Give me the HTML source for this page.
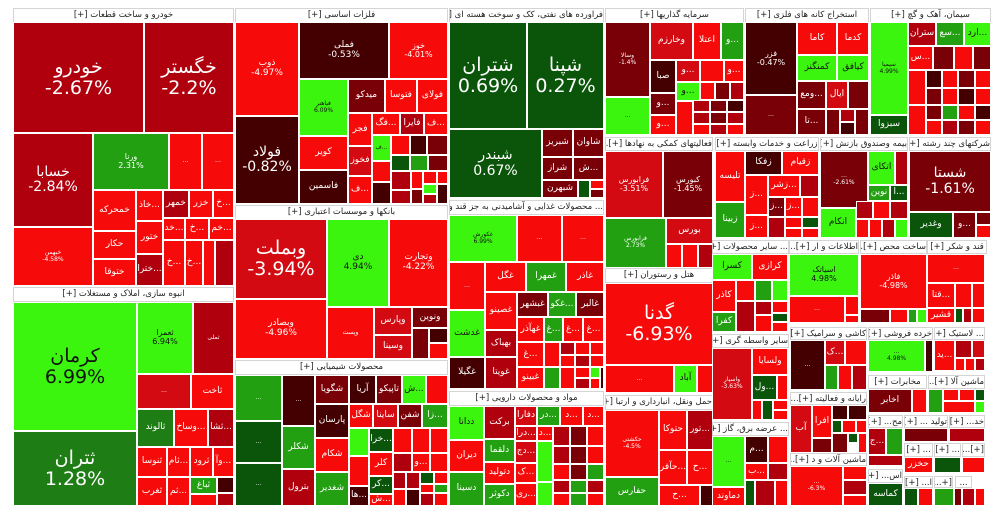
<!DOCTYPE html>
<html><head><meta charset="utf-8"><style>
body{margin:0;background:#fff;width:1000px;height:517px;overflow:hidden;position:relative;font-family:"DejaVu Sans","Liberation Sans",sans-serif}
.t,.h{position:absolute;box-sizing:border-box;overflow:hidden}
.t{border:1px solid #fff;display:flex;flex-direction:column;align-items:center;justify-content:center;color:#fff;text-align:center;line-height:1.1;font-size:9px;white-space:nowrap}
.h{background:#fff;border:1px solid #d4d4d4;font-size:8.5px;color:#222;text-align:center;line-height:12px;white-space:nowrap;direction:rtl}
.r{background:#f70a0a}.r2{background:#d40a12}.r3{background:#b0000e}.r4{background:#7a0008}.r5{background:#440000}
.g{background:#3cf50f;color:#111}.g2{background:#22a012}.g3{background:#0a550a}.gd{background:#1e7d14}
.L{font-size:19px}.M{font-size:14px}.S{font-size:8px}.T{font-size:6px}
</style></head><body>
<!-- Autos -->
<div class="h" style="left:13px;top:8px;width:221px;height:15px">خودرو و ساخت قطعات [+]</div>
<div class="t r3 L" style="left:13px;top:22px;width:131px;height:111px">خودرو<br>-2.67%</div>
<div class="t r3 L" style="left:144px;top:22px;width:90px;height:111px">خگستر<br>-2.2%</div>
<div class="t r3 M" style="left:13px;top:133px;width:80px;height:94px">خسابا<br>-2.84%</div>
<div class="t g2 S" style="left:93px;top:133px;width:76px;height:57px">ورنا<br>2.31%</div>
<div class="t r T" style="left:169px;top:133px;width:33px;height:57px">…</div>
<div class="t r T" style="left:202px;top:133px;width:32px;height:57px">…</div>
<div class="t r T" style="left:13px;top:227px;width:80px;height:59px">خبهمن<br>-4.58%</div>
<div class="t r" style="left:93px;top:190px;width:43px;height:41px">خمحرکه</div>
<div class="t r" style="left:136px;top:190px;width:27px;height:31px">خاذ...</div>
<div class="t r3" style="left:163px;top:190px;width:26px;height:28px">خمهر</div>
<div class="t r" style="left:189px;top:190px;width:24px;height:28px">خزر</div>
<div class="t r" style="left:213px;top:190px;width:21px;height:28px">خ...</div>
<div class="t r" style="left:93px;top:231px;width:43px;height:28px">حکار</div>
<div class="t r" style="left:136px;top:221px;width:27px;height:33px">ختور</div>
<div class="t r" style="left:163px;top:218px;width:22px;height:22px">خد...</div>
<div class="t r" style="left:185px;top:218px;width:24px;height:22px">خ...</div>
<div class="t r" style="left:209px;top:218px;width:25px;height:22px">خم...</div>
<div class="t r" style="left:93px;top:259px;width:43px;height:27px">ختوقا</div>
<div class="t r3" style="left:136px;top:254px;width:27px;height:32px">خترا...</div>
<div class="t r" style="left:163px;top:240px;width:22px;height:46px">خ...</div>
<div class="t r" style="left:185px;top:240px;width:18px;height:46px">خ...</div>
<div class="t r" style="left:203px;top:240px;width:12px;height:46px"></div>
<div class="t r3" style="left:215px;top:240px;width:19px;height:46px"></div>
<!-- Construction -->
<div class="h" style="left:13px;top:287px;width:221px;height:15px">انبوه سازی، املاک و مستغلات [+]</div>
<div class="t g L" style="left:13px;top:302px;width:124px;height:129px">کرمان<br>6.99%</div>
<div class="t gd L" style="left:13px;top:431px;width:124px;height:75px">ثتران<br>1.28%</div>
<div class="t g S" style="left:137px;top:302px;width:56px;height:72px">ثعمرا<br>6.94%</div>
<div class="t r3 T" style="left:193px;top:302px;width:41px;height:72px">ثملی</div>
<div class="t r2 T" style="left:137px;top:374px;width:54px;height:35px">…</div>
<div class="t r" style="left:191px;top:374px;width:43px;height:35px">ثاخت</div>
<div class="t gd" style="left:137px;top:409px;width:37px;height:38px">ثالوند</div>
<div class="t r" style="left:174px;top:409px;width:34px;height:38px">وساخ...</div>
<div class="t r3" style="left:208px;top:409px;width:26px;height:38px">ثشا...</div>
<div class="t r" style="left:137px;top:447px;width:30px;height:30px">ثنوسا</div>
<div class="t r" style="left:167px;top:447px;width:23px;height:30px">ثام...</div>
<div class="t r" style="left:190px;top:447px;width:23px;height:30px">ثرود</div>
<div class="t r" style="left:213px;top:447px;width:21px;height:30px">وآ...</div>
<div class="t r" style="left:137px;top:477px;width:30px;height:29px">ثغرب</div>
<div class="t r" style="left:167px;top:477px;width:23px;height:29px">ثم...</div>
<div class="t g2" style="left:190px;top:477px;width:27px;height:17px">ثباغ</div>
<div class="t r5" style="left:217px;top:477px;width:17px;height:16px"></div>
<div class="t r" style="left:190px;top:494px;width:27px;height:12px"></div>
<div class="t r3" style="left:217px;top:493px;width:17px;height:13px"></div>
<!-- Metals -->
<div class="h" style="left:235px;top:8px;width:213px;height:15px">فلزات اساسی [+]</div>
<div class="t r" style="left:235px;top:22px;width:64px;height:94px">ذوب<br>-4.97%</div>
<div class="t r5" style="left:299px;top:22px;width:90px;height:57px">فملی<br>-0.53%</div>
<div class="t r S" style="left:389px;top:22px;width:59px;height:57px">خوز<br>-4.01%</div>
<div class="t g T" style="left:299px;top:79px;width:49px;height:57px">فباهنر<br>6.09%</div>
<div class="t r4" style="left:348px;top:79px;width:37px;height:34px">میدکو</div>
<div class="t r" style="left:385px;top:79px;width:32px;height:34px">فتوسا</div>
<div class="t r" style="left:417px;top:79px;width:31px;height:34px">فولای</div>
<div class="t r5 M" style="left:235px;top:116px;width:64px;height:88px">فولاد<br>-0.82%</div>
<div class="t r" style="left:348px;top:113px;width:24px;height:33px">فجر</div>
<div class="t r" style="left:372px;top:113px;width:28px;height:22px">فگ...</div>
<div class="t r3" style="left:400px;top:113px;width:24px;height:22px">فایرا</div>
<div class="t r" style="left:424px;top:113px;width:24px;height:22px">ف...</div>
<div class="t r" style="left:299px;top:136px;width:49px;height:34px">کویر</div>
<div class="t r5" style="left:299px;top:170px;width:49px;height:34px">فاسمین</div>
<div class="t r2" style="left:348px;top:146px;width:24px;height:30px">فخوز</div>
<div class="t r" style="left:348px;top:176px;width:24px;height:28px">ف...</div>
<div class="t g T" style="left:372px;top:135px;width:19px;height:26px">ف...</div>
<div class="t r" style="left:391px;top:135px;width:19px;height:20px"></div>
<div class="t r5" style="left:410px;top:135px;width:17px;height:20px"></div>
<div class="t r4" style="left:427px;top:135px;width:21px;height:20px"></div>
<div class="t r" style="left:372px;top:161px;width:19px;height:21px"></div>
<div class="t g3" style="left:391px;top:155px;width:19px;height:16px"></div>
<div class="t g2" style="left:410px;top:155px;width:18px;height:16px"></div>
<div class="t r4" style="left:428px;top:155px;width:20px;height:16px"></div>
<div class="t r5" style="left:372px;top:182px;width:19px;height:22px"></div>
<div class="t r3" style="left:391px;top:171px;width:20px;height:19px"></div>
<div class="t r" style="left:411px;top:171px;width:12px;height:18px"></div>
<div class="t r" style="left:423px;top:171px;width:14px;height:13px"></div>
<div class="t r" style="left:437px;top:171px;width:11px;height:13px"></div>
<div class="t g" style="left:423px;top:184px;width:14px;height:10px"></div>
<div class="t r3" style="left:391px;top:190px;width:20px;height:14px"></div>
<div class="t r4" style="left:411px;top:189px;width:12px;height:15px"></div>
<div class="t r3" style="left:423px;top:194px;width:14px;height:10px"></div>
<div class="t r5" style="left:437px;top:184px;width:11px;height:20px"></div>
<!-- Banks -->
<div class="h" style="left:235px;top:205px;width:213px;height:15px">بانکها و موسسات اعتباری [+]</div>
<div class="t r2 L" style="left:235px;top:219px;width:92px;height:80px">وبملت<br>-3.94%</div>
<div class="t g" style="left:327px;top:219px;width:62px;height:88px">دی<br>4.94%</div>
<div class="t r" style="left:389px;top:219px;width:59px;height:88px">وتجارت<br>-4.22%</div>
<div class="t r" style="left:235px;top:299px;width:92px;height:60px">وبصادر<br>-4.96%</div>
<div class="t r T" style="left:327px;top:307px;width:47px;height:52px">وپست</div>
<div class="t r2" style="left:374px;top:307px;width:38px;height:28px">وپارس</div>
<div class="t r2" style="left:374px;top:335px;width:38px;height:24px">وسینا</div>
<div class="t r4" style="left:412px;top:307px;width:36px;height:21px">ونوین</div>
<div class="t r4" style="left:412px;top:328px;width:17px;height:31px"></div>
<div class="t r5" style="left:429px;top:328px;width:19px;height:15px"></div>
<div class="t r" style="left:429px;top:343px;width:19px;height:16px"></div>
<!-- Chemicals -->
<div class="h" style="left:235px;top:360px;width:213px;height:15px">محصولات شیمیایی [+]</div>
<div class="t g2 T" style="left:235px;top:375px;width:47px;height:46px">…</div>
<div class="t g3 T" style="left:235px;top:421px;width:47px;height:42px">…</div>
<div class="t g3 T" style="left:235px;top:463px;width:47px;height:43px">…</div>
<div class="t r5 T" style="left:282px;top:375px;width:33px;height:51px">…</div>
<div class="t g2" style="left:282px;top:426px;width:33px;height:43px">شکلر</div>
<div class="t r3" style="left:282px;top:469px;width:33px;height:37px">بترول</div>
<div class="t r4" style="left:315px;top:375px;width:34px;height:29px">شگویا</div>
<div class="t r5" style="left:315px;top:404px;width:34px;height:34px">پارسان</div>
<div class="t r" style="left:315px;top:438px;width:34px;height:34px">شکام</div>
<div class="t g2" style="left:315px;top:472px;width:34px;height:34px">شغدیر</div>
<div class="t r5" style="left:349px;top:375px;width:27px;height:29px">آریا</div>
<div class="t r4" style="left:376px;top:375px;width:26px;height:29px">تاپیکو</div>
<div class="t g" style="left:402px;top:375px;width:24px;height:29px">ش...</div>
<div class="t r" style="left:426px;top:375px;width:22px;height:29px"></div>
<div class="t r" style="left:349px;top:404px;width:24px;height:24px">شگل</div>
<div class="t r2" style="left:373px;top:404px;width:25px;height:24px">ساینا</div>
<div class="t r4" style="left:398px;top:404px;width:24px;height:24px">شفن</div>
<div class="t g2" style="left:422px;top:404px;width:26px;height:24px">زا...</div>
<div class="t g" style="left:349px;top:428px;width:20px;height:28px"></div>
<div class="t g3" style="left:369px;top:428px;width:24px;height:24px">خرا...</div>
<div class="t r" style="left:393px;top:428px;width:19px;height:25px"></div>
<div class="t r" style="left:412px;top:428px;width:18px;height:25px"></div>
<div class="t r" style="left:430px;top:428px;width:18px;height:25px"></div>
<div class="t r" style="left:349px;top:456px;width:20px;height:30px"></div>
<div class="t r" style="left:369px;top:452px;width:24px;height:24px">کلر</div>
<div class="t r3" style="left:393px;top:453px;width:19px;height:19px"></div>
<div class="t r" style="left:412px;top:453px;width:18px;height:19px">و...</div>
<div class="t r" style="left:430px;top:453px;width:18px;height:19px"></div>
<div class="t g3" style="left:369px;top:476px;width:24px;height:18px">کر...</div>
<div class="t r" style="left:369px;top:494px;width:24px;height:12px">ش...</div>
<div class="t r5" style="left:349px;top:486px;width:20px;height:20px">ها...</div>
<div class="t r3" style="left:393px;top:472px;width:13px;height:17px"></div>
<div class="t r3" style="left:406px;top:472px;width:14px;height:17px"></div>
<div class="t g3" style="left:420px;top:472px;width:14px;height:12px"></div>
<div class="t r" style="left:434px;top:472px;width:14px;height:12px"></div>
<div class="t r" style="left:420px;top:484px;width:14px;height:9px"></div>
<div class="t g2" style="left:434px;top:484px;width:14px;height:9px"></div>
<div class="t r" style="left:393px;top:489px;width:13px;height:17px"></div>
<div class="t r5" style="left:406px;top:489px;width:14px;height:17px"></div>
<div class="t r3" style="left:420px;top:493px;width:14px;height:13px"></div>
<div class="t r" style="left:434px;top:493px;width:14px;height:13px"></div>
<!-- Oil -->
<div class="h" style="left:449px;top:8px;width:155px;height:15px">فراورده های نفتی، کک و سوخت هسته ای [+]</div>
<div class="t g3 L" style="left:449px;top:22px;width:78px;height:107px">شتران<br>0.69%</div>
<div class="t g3 L" style="left:527px;top:22px;width:77px;height:107px">شپنا<br>0.27%</div>
<div class="t g3 M" style="left:449px;top:129px;width:93px;height:69px">شبندر<br>0.67%</div>
<div class="t r4" style="left:542px;top:129px;width:31px;height:28px">شبریز</div>
<div class="t r4" style="left:573px;top:129px;width:31px;height:28px">شاوان</div>
<div class="t r4" style="left:542px;top:157px;width:31px;height:23px">شراز</div>
<div class="t r4" style="left:573px;top:157px;width:31px;height:23px">ش...</div>
<div class="t r4" style="left:542px;top:180px;width:36px;height:18px">شبهرن</div>
<div class="t g3" style="left:578px;top:180px;width:12px;height:18px"></div>
<div class="t r" style="left:590px;top:180px;width:14px;height:9px"></div>
<div class="t r4" style="left:590px;top:189px;width:14px;height:9px"></div>
<!-- Food -->
<div class="h" style="left:449px;top:200px;width:155px;height:15px">... محصولات غذایی و آشامیدنی به جز قند و [+]</div>
<div class="t g T" style="left:449px;top:215px;width:68px;height:47px">غکورش<br>6.99%</div>
<div class="t r T" style="left:517px;top:215px;width:45px;height:47px">…</div>
<div class="t r T" style="left:562px;top:215px;width:42px;height:47px">…</div>
<div class="t r T" style="left:449px;top:262px;width:36px;height:48px">…</div>
<div class="t r" style="left:485px;top:262px;width:41px;height:30px">غگل</div>
<div class="t g2" style="left:526px;top:262px;width:40px;height:30px">غمهرا</div>
<div class="t r" style="left:566px;top:262px;width:38px;height:30px">غاذر</div>
<div class="t r" style="left:485px;top:292px;width:32px;height:38px">غصینو</div>
<div class="t r4" style="left:517px;top:292px;width:31px;height:25px">غبشهر</div>
<div class="t g2" style="left:548px;top:292px;width:28px;height:25px">غکو...</div>
<div class="t r4" style="left:576px;top:292px;width:28px;height:25px">غالبر</div>
<div class="t g" style="left:449px;top:310px;width:36px;height:47px">غدشت</div>
<div class="t r5" style="left:449px;top:357px;width:36px;height:32px">غگیلا</div>
<div class="t r3" style="left:485px;top:330px;width:32px;height:27px">بهباک</div>
<div class="t r3" style="left:485px;top:357px;width:32px;height:32px">غویتا</div>
<div class="t r" style="left:517px;top:317px;width:27px;height:25px">غهآذر</div>
<div class="t g2" style="left:544px;top:317px;width:19px;height:25px">غ...</div>
<div class="t r" style="left:563px;top:317px;width:20px;height:25px">غ...</div>
<div class="t r" style="left:583px;top:317px;width:21px;height:25px">غ...</div>
<div class="t r" style="left:517px;top:342px;width:27px;height:25px">غ...</div>
<div class="t r" style="left:517px;top:367px;width:27px;height:22px">غبینو</div>
<div class="t r" style="left:544px;top:342px;width:16px;height:25px"></div>
<div class="t r3" style="left:560px;top:342px;width:15px;height:13px"></div>
<div class="t r" style="left:575px;top:342px;width:15px;height:13px"></div>
<div class="t r" style="left:590px;top:342px;width:14px;height:13px"></div>
<div class="t r" style="left:560px;top:355px;width:15px;height:12px"></div>
<div class="t r3" style="left:575px;top:355px;width:15px;height:12px"></div>
<div class="t r" style="left:590px;top:355px;width:14px;height:12px"></div>
<div class="t g2" style="left:544px;top:367px;width:16px;height:22px"></div>
<div class="t r" style="left:560px;top:367px;width:15px;height:22px"></div>
<div class="t r" style="left:575px;top:367px;width:15px;height:11px"></div>
<div class="t g" style="left:590px;top:367px;width:10px;height:11px"></div>
<div class="t r3" style="left:575px;top:378px;width:15px;height:11px"></div>
<div class="t r" style="left:590px;top:378px;width:10px;height:11px"></div>
<div class="t r5" style="left:600px;top:367px;width:4px;height:22px"></div>
<!-- Pharma -->
<div class="h" style="left:449px;top:391px;width:155px;height:15px">مواد و محصولات دارویی [+]</div>
<div class="t g" style="left:449px;top:406px;width:35px;height:34px">ددانا</div>
<div class="t r" style="left:449px;top:440px;width:35px;height:32px">دیران</div>
<div class="t g2" style="left:449px;top:472px;width:35px;height:34px">دسینا</div>
<div class="t r3" style="left:484px;top:406px;width:31px;height:33px">برکت</div>
<div class="t g2" style="left:484px;top:439px;width:31px;height:23px">دلقما</div>
<div class="t r" style="left:484px;top:462px;width:31px;height:22px">دتولید</div>
<div class="t g2" style="left:484px;top:484px;width:31px;height:22px">دکوثر</div>
<div class="t r2" style="left:515px;top:406px;width:22px;height:20px">دفارا</div>
<div class="t g2" style="left:537px;top:406px;width:23px;height:20px">در...</div>
<div class="t r" style="left:560px;top:406px;width:23px;height:20px">د...</div>
<div class="t r" style="left:583px;top:406px;width:21px;height:20px">د...</div>
<div class="t r2" style="left:515px;top:426px;width:22px;height:15px">درا...</div>
<div class="t r" style="left:537px;top:426px;width:16px;height:15px">د...</div>
<div class="t r2" style="left:515px;top:441px;width:22px;height:22px">دج...</div>
<div class="t r" style="left:515px;top:463px;width:22px;height:20px">ک...</div>
<div class="t r" style="left:515px;top:483px;width:22px;height:23px">ری...</div>
<div class="t g" style="left:537px;top:441px;width:16px;height:41px"></div>
<div class="t g" style="left:537px;top:482px;width:16px;height:24px"></div>
<div class="t r3" style="left:553px;top:426px;width:17px;height:20px"></div>
<div class="t r4" style="left:570px;top:426px;width:17px;height:20px"></div>
<div class="t r" style="left:587px;top:426px;width:17px;height:20px"></div>
<div class="t r3" style="left:553px;top:446px;width:17px;height:18px"></div>
<div class="t r4" style="left:570px;top:446px;width:17px;height:18px"></div>
<div class="t r" style="left:587px;top:446px;width:17px;height:18px"></div>
<div class="t r" style="left:553px;top:464px;width:17px;height:16px"></div>
<div class="t r4" style="left:570px;top:464px;width:17px;height:16px"></div>
<div class="t g2" style="left:587px;top:464px;width:17px;height:16px"></div>
<div class="t r3" style="left:553px;top:480px;width:17px;height:13px"></div>
<div class="t g2" style="left:570px;top:480px;width:17px;height:13px"></div>
<div class="t r3" style="left:587px;top:480px;width:17px;height:13px"></div>
<div class="t r" style="left:553px;top:493px;width:17px;height:13px"></div>
<div class="t g2" style="left:570px;top:493px;width:17px;height:13px"></div>
<div class="t r" style="left:587px;top:493px;width:17px;height:13px"></div>
<!-- Investment -->
<div class="h" style="left:605px;top:8px;width:139px;height:15px">سرمایه گذاریها [+]</div>
<div class="t r4 T" style="left:605px;top:22px;width:45px;height:75px">وسالا<br>-1.4%</div>
<div class="t g T" style="left:605px;top:97px;width:45px;height:38px">…</div>
<div class="t r2" style="left:650px;top:22px;width:43px;height:38px">وخارزم</div>
<div class="t r" style="left:693px;top:22px;width:28px;height:38px">اعتلا</div>
<div class="t g2" style="left:721px;top:22px;width:23px;height:38px">و...</div>
<div class="t r5" style="left:650px;top:60px;width:26px;height:33px">صبا</div>
<div class="t r2" style="left:676px;top:60px;width:24px;height:22px">و...</div>
<div class="t r" style="left:700px;top:60px;width:24px;height:22px"></div>
<div class="t r" style="left:724px;top:60px;width:20px;height:22px">و...</div>
<div class="t g" style="left:676px;top:82px;width:24px;height:19px">و...</div>
<div class="t r4" style="left:650px;top:93px;width:26px;height:22px">و...</div>
<div class="t r" style="left:650px;top:115px;width:26px;height:20px">و...</div>
<div class="t r" style="left:700px;top:82px;width:15px;height:18px"></div>
<div class="t r4" style="left:715px;top:82px;width:15px;height:18px"></div>
<div class="t r3" style="left:730px;top:82px;width:14px;height:18px"></div>
<div class="t r" style="left:676px;top:101px;width:17px;height:34px"></div>
<div class="t r3" style="left:693px;top:100px;width:17px;height:12px"></div>
<div class="t r4" style="left:710px;top:100px;width:17px;height:12px"></div>
<div class="t r5" style="left:727px;top:100px;width:17px;height:12px"></div>
<div class="t r3" style="left:693px;top:112px;width:17px;height:12px"></div>
<div class="t r4" style="left:710px;top:112px;width:17px;height:12px"></div>
<div class="t r3" style="left:727px;top:112px;width:17px;height:12px"></div>
<div class="t r" style="left:693px;top:124px;width:17px;height:11px"></div>
<div class="t r3" style="left:710px;top:124px;width:17px;height:11px"></div>
<div class="t r" style="left:727px;top:124px;width:17px;height:11px"></div>
<!-- Mining -->
<div class="h" style="left:745px;top:8px;width:124px;height:15px">استخراج کانه های فلزی [+]</div>
<div class="t r5 S" style="left:745px;top:22px;width:52px;height:73px">فزر<br>-0.47%</div>
<div class="t r4 T" style="left:745px;top:95px;width:52px;height:40px">…</div>
<div class="t r" style="left:797px;top:22px;width:40px;height:33px">کاما</div>
<div class="t r" style="left:837px;top:22px;width:32px;height:33px">کدما</div>
<div class="t g" style="left:797px;top:55px;width:40px;height:26px">کمنگنز</div>
<div class="t g" style="left:837px;top:55px;width:32px;height:26px">کیافق</div>
<div class="t r4" style="left:797px;top:81px;width:29px;height:28px">ومع...</div>
<div class="t r2" style="left:826px;top:81px;width:22px;height:28px">ایال</div>
<div class="t r4" style="left:848px;top:81px;width:21px;height:28px"></div>
<div class="t r4" style="left:797px;top:109px;width:29px;height:26px">تا...</div>
<div class="t r4" style="left:826px;top:109px;width:14px;height:26px"></div>
<div class="t r3" style="left:840px;top:109px;width:15px;height:13px"></div>
<div class="t r5" style="left:840px;top:122px;width:15px;height:13px"></div>
<div class="t r4" style="left:855px;top:109px;width:14px;height:26px"></div>
<!-- Cement -->
<div class="h" style="left:870px;top:8px;width:121px;height:15px">سیمان، آهک و گچ [+]</div>
<div class="t g T" style="left:870px;top:22px;width:38px;height:93px">سیمیا<br>4.99%</div>
<div class="t g3" style="left:870px;top:115px;width:38px;height:20px">سبزوا</div>
<div class="t r3" style="left:908px;top:22px;width:28px;height:24px">ستران</div>
<div class="t g2" style="left:936px;top:22px;width:28px;height:24px">سع...</div>
<div class="t g" style="left:964px;top:22px;width:27px;height:24px">ارد...</div>
<div class="t r" style="left:908px;top:46px;width:25px;height:24px">س...</div>
<div class="t r4" style="left:933px;top:46px;width:21px;height:24px"></div>
<div class="t r" style="left:954px;top:46px;width:19px;height:24px"></div>
<div class="t r4" style="left:973px;top:46px;width:18px;height:24px"></div>
<div class="t r" style="left:908px;top:70px;width:18px;height:35px"></div>
<div class="t r5" style="left:926px;top:70px;width:16px;height:18px"></div>
<div class="t r" style="left:942px;top:70px;width:16px;height:18px"></div>
<div class="t r4" style="left:958px;top:70px;width:17px;height:18px"></div>
<div class="t r" style="left:975px;top:70px;width:16px;height:18px"></div>
<div class="t r4" style="left:926px;top:88px;width:16px;height:17px"></div>
<div class="t r" style="left:942px;top:88px;width:16px;height:17px"></div>
<div class="t r5" style="left:958px;top:88px;width:17px;height:17px"></div>
<div class="t r" style="left:975px;top:88px;width:16px;height:17px"></div>
<div class="t r" style="left:908px;top:105px;width:18px;height:30px"></div>
<div class="t r4" style="left:926px;top:105px;width:16px;height:15px"></div>
<div class="t g2" style="left:942px;top:105px;width:16px;height:15px"></div>
<div class="t r" style="left:958px;top:105px;width:17px;height:15px"></div>
<div class="t r5" style="left:975px;top:105px;width:16px;height:15px"></div>
<div class="t r" style="left:926px;top:120px;width:16px;height:15px"></div>
<div class="t r3" style="left:942px;top:120px;width:16px;height:15px"></div>
<div class="t r4" style="left:958px;top:120px;width:17px;height:15px"></div>
<div class="t r" style="left:975px;top:120px;width:16px;height:15px"></div>
<!-- Support activities -->
<div class="h" style="left:605px;top:137px;width:108px;height:14px">فعالیتهای کمکی به نهادها [+]...</div>
<div class="t r2 S" style="left:605px;top:151px;width:58px;height:67px">فرابورس<br>-3.51%</div>
<div class="t r4 S" style="left:663px;top:151px;width:50px;height:67px">کبورس<br>-1.45%</div>
<div class="t g2 T" style="left:605px;top:218px;width:61px;height:50px">فرابورس<br>2.73%</div>
<div class="t r2" style="left:666px;top:218px;width:47px;height:26px">بورس</div>
<div class="t r" style="left:666px;top:244px;width:16px;height:24px"></div>
<div class="t r" style="left:682px;top:244px;width:16px;height:24px"></div>
<div class="t r3" style="left:698px;top:244px;width:15px;height:24px"></div>
<!-- Hotel -->
<div class="h" style="left:605px;top:268px;width:108px;height:15px">هتل و رستوران [+]</div>
<div class="t r L" style="left:605px;top:283px;width:108px;height:82px">گدنا<br>-6.93%</div>
<div class="t r T" style="left:605px;top:365px;width:69px;height:28px">…</div>
<div class="t g" style="left:674px;top:365px;width:23px;height:28px">آباد</div>
<div class="t r" style="left:697px;top:365px;width:16px;height:28px"></div>
<!-- Transport -->
<div class="h" style="left:605px;top:395px;width:108px;height:15px">حمل ونقل، انبارداری و ارتبا [+]...</div>
<div class="t r T" style="left:605px;top:410px;width:54px;height:67px">حکشتی<br>-4.5%</div>
<div class="t r" style="left:659px;top:410px;width:28px;height:40px">حتوکا</div>
<div class="t r3" style="left:687px;top:410px;width:26px;height:40px">تور...</div>
<div class="t r" style="left:659px;top:450px;width:28px;height:35px">حآفر...</div>
<div class="t r" style="left:687px;top:450px;width:26px;height:35px">ح...</div>
<div class="t g2" style="left:605px;top:477px;width:54px;height:29px">حفارس</div>
<div class="t r" style="left:659px;top:485px;width:41px;height:21px">ح...</div>
<div class="t r5" style="left:700px;top:485px;width:13px;height:21px"></div>
<!-- Agriculture -->
<div class="h" style="left:715px;top:137px;width:104px;height:14px">زراعت و خدمات وابسته [+]</div>
<div class="t r" style="left:715px;top:151px;width:30px;height:51px">تلیسه</div>
<div class="t g2" style="left:715px;top:202px;width:30px;height:36px">زبینا</div>
<div class="t r5" style="left:745px;top:151px;width:37px;height:24px">زفکا</div>
<div class="t r" style="left:782px;top:151px;width:37px;height:24px">زقیام</div>
<div class="t r" style="left:745px;top:175px;width:23px;height:40px">ز...</div>
<div class="t r" style="left:768px;top:175px;width:32px;height:22px">زشر...</div>
<div class="t r3" style="left:800px;top:175px;width:19px;height:22px"></div>
<div class="t r4" style="left:768px;top:197px;width:17px;height:20px">ز...</div>
<div class="t r" style="left:785px;top:197px;width:17px;height:20px">ز...</div>
<div class="t r" style="left:802px;top:197px;width:17px;height:20px"></div>
<div class="t r" style="left:745px;top:215px;width:23px;height:23px">ز...</div>
<div class="t r3" style="left:768px;top:217px;width:17px;height:21px"></div>
<div class="t r" style="left:785px;top:217px;width:17px;height:11px"></div>
<div class="t g3" style="left:802px;top:217px;width:17px;height:11px"></div>
<div class="t r" style="left:785px;top:228px;width:17px;height:10px"></div>
<div class="t r" style="left:802px;top:228px;width:17px;height:10px"></div>
<!-- Insurance -->
<div class="h" style="left:820px;top:137px;width:88px;height:14px">بیمه وصندوق بازنش [+]...</div>
<div class="t r4 T" style="left:820px;top:151px;width:48px;height:57px">…<br>-2.61%</div>
<div class="t g" style="left:868px;top:151px;width:27px;height:34px">اتکای</div>
<div class="t r3" style="left:895px;top:151px;width:13px;height:34px"></div>
<div class="t g2" style="left:868px;top:185px;width:22px;height:16px">نوین</div>
<div class="t g3" style="left:890px;top:185px;width:18px;height:16px">ا...</div>
<div class="t g" style="left:820px;top:208px;width:36px;height:30px">انکام</div>
<div class="t r3" style="left:856px;top:201px;width:17px;height:18px"></div>
<div class="t r" style="left:873px;top:201px;width:17px;height:18px"></div>
<div class="t r3" style="left:890px;top:201px;width:18px;height:18px"></div>
<div class="t r" style="left:856px;top:219px;width:13px;height:19px"></div>
<div class="t r" style="left:869px;top:219px;width:13px;height:19px"></div>
<div class="t r3" style="left:882px;top:219px;width:13px;height:19px"></div>
<div class="t g" style="left:895px;top:219px;width:13px;height:19px"></div>
<!-- Diversified -->
<div class="h" style="left:909px;top:137px;width:82px;height:14px">شرکتهای چند رشته [+]...</div>
<div class="t r4 M" style="left:909px;top:151px;width:82px;height:61px">شستا<br>-1.61%</div>
<div class="t g3" style="left:909px;top:212px;width:44px;height:26px">وغدیر</div>
<div class="t r4" style="left:953px;top:212px;width:23px;height:26px">و...</div>
<div class="t r4" style="left:976px;top:212px;width:15px;height:13px"></div>
<div class="t r" style="left:976px;top:225px;width:15px;height:13px"></div>
<!-- Row of headers 240 -->
<div class="h" style="left:712px;top:240px;width:77px;height:14px">... سایر محصولات [+]</div>
<div class="h" style="left:789px;top:240px;width:70px;height:14px">اطلاعات و ار [+]...</div>
<div class="h" style="left:860px;top:240px;width:67px;height:14px">ساخت محص [+]...</div>
<div class="h" style="left:927px;top:240px;width:60px;height:14px">قند و شکر [+]</div>
<div class="t g" style="left:712px;top:254px;width:40px;height:26px">کسرا</div>
<div class="t r" style="left:752px;top:254px;width:36px;height:26px">کرازی</div>
<div class="t r" style="left:712px;top:280px;width:24px;height:32px">کاذر</div>
<div class="t g2" style="left:712px;top:312px;width:24px;height:20px">کفرا</div>
<div class="t r" style="left:736px;top:280px;width:19px;height:21px"></div>
<div class="t g2" style="left:755px;top:280px;width:17px;height:21px"></div>
<div class="t g" style="left:772px;top:280px;width:16px;height:21px"></div>
<div class="t r3" style="left:736px;top:301px;width:19px;height:31px"></div>
<div class="t r3" style="left:755px;top:301px;width:17px;height:14px"></div>
<div class="t r" style="left:772px;top:301px;width:16px;height:12px"></div>
<div class="t r" style="left:755px;top:315px;width:17px;height:17px"></div>
<div class="t g3" style="left:772px;top:313px;width:16px;height:9px"></div>
<div class="t r" style="left:772px;top:322px;width:16px;height:10px"></div>
<div class="t g S" style="left:789px;top:254px;width:70px;height:42px">اسیاتک<br>4.98%</div>
<div class="t r T" style="left:789px;top:296px;width:56px;height:27px">…</div>
<div class="t r" style="left:845px;top:296px;width:14px;height:19px"></div>
<div class="t r" style="left:845px;top:315px;width:14px;height:8px"></div>
<div class="t r S" style="left:860px;top:254px;width:67px;height:55px">فاذر<br>-4.98%</div>
<div class="t r4" style="left:860px;top:309px;width:30px;height:14px"></div>
<div class="t r" style="left:890px;top:309px;width:18px;height:14px"></div>
<div class="t g2" style="left:908px;top:309px;width:9px;height:14px"></div>
<div class="t g" style="left:917px;top:309px;width:10px;height:14px"></div>
<div class="t r T" style="left:927px;top:254px;width:58px;height:29px">…</div>
<div class="t r" style="left:927px;top:283px;width:28px;height:25px">قتا...</div>
<div class="t r" style="left:955px;top:283px;width:17px;height:25px"></div>
<div class="t r" style="left:972px;top:283px;width:13px;height:25px"></div>
<div class="t r" style="left:927px;top:308px;width:28px;height:15px">قشیر</div>
<div class="t g3" style="left:955px;top:308px;width:8px;height:15px"></div>
<div class="t r3" style="left:963px;top:308px;width:9px;height:15px"></div>
<div class="t r" style="left:972px;top:308px;width:13px;height:15px"></div>
<!-- Row headers ~327 -->
<div class="h" style="left:712px;top:334px;width:77px;height:14px">سایر واسطه گری [+]...</div>
<div class="t r2 T" style="left:712px;top:348px;width:40px;height:72px">واسپار<br>-3.63%</div>
<div class="t r" style="left:752px;top:348px;width:36px;height:27px">ولسایا</div>
<div class="t g3" style="left:752px;top:375px;width:25px;height:25px">ول...</div>
<div class="t r" style="left:777px;top:375px;width:11px;height:25px"></div>
<div class="t r" style="left:752px;top:400px;width:10px;height:20px"></div>
<div class="t g3" style="left:762px;top:400px;width:11px;height:20px"></div>
<div class="t r" style="left:773px;top:400px;width:15px;height:10px"></div>
<div class="t r" style="left:773px;top:410px;width:15px;height:10px"></div>
<div class="h" style="left:790px;top:327px;width:77px;height:13px">کاشی و سرامیک [+]</div>
<div class="t r5 T" style="left:790px;top:340px;width:35px;height:50px">…</div>
<div class="t r2" style="left:825px;top:340px;width:20px;height:25px">ک...</div>
<div class="t r" style="left:845px;top:340px;width:22px;height:25px"></div>
<div class="t g2" style="left:825px;top:365px;width:13px;height:25px"></div>
<div class="t r" style="left:838px;top:365px;width:14px;height:25px"></div>
<div class="t r3" style="left:852px;top:365px;width:15px;height:25px"></div>
<div class="h" style="left:868px;top:327px;width:65px;height:13px">خرده فروشی [+]...</div>
<div class="t g T" style="left:868px;top:340px;width:57px;height:32px">…<br>4.98%</div>
<div class="t r5" style="left:925px;top:340px;width:8px;height:32px"></div>
<div class="h" style="left:934px;top:327px;width:51px;height:13px">... لاستیک [+]</div>
<div class="t r" style="left:934px;top:340px;width:21px;height:31px">ید...</div>
<div class="t r3" style="left:955px;top:340px;width:17px;height:18px"></div>
<div class="t r2" style="left:972px;top:340px;width:13px;height:18px"></div>
<div class="t r" style="left:955px;top:358px;width:10px;height:13px"></div>
<div class="t r" style="left:965px;top:358px;width:10px;height:13px"></div>
<div class="t r3" style="left:975px;top:358px;width:10px;height:13px"></div>
<div class="h" style="left:868px;top:375px;width:59px;height:14px">مخابرات [+]</div>
<div class="t r4" style="left:868px;top:389px;width:44px;height:24px">اخابر</div>
<div class="t r" style="left:912px;top:389px;width:15px;height:24px"></div>
<div class="h" style="left:928px;top:375px;width:57px;height:14px">ماشین آلا [+]...</div>
<div class="t g2" style="left:928px;top:389px;width:15px;height:24px"></div>
<div class="t r" style="left:943px;top:389px;width:16px;height:12px"></div>
<div class="t r" style="left:959px;top:389px;width:16px;height:12px"></div>
<div class="t g3" style="left:975px;top:389px;width:10px;height:12px"></div>
<div class="t r" style="left:943px;top:401px;width:32px;height:12px"></div>
<div class="t g" style="left:975px;top:401px;width:10px;height:12px"></div>
<div class="h" style="left:790px;top:392px;width:77px;height:13px">رایانه و فعالیته [+]...</div>
<div class="t r2" style="left:790px;top:405px;width:22px;height:48px">آب</div>
<div class="t r" style="left:812px;top:405px;width:20px;height:33px">افرا</div>
<div class="t r4" style="left:812px;top:438px;width:20px;height:15px"></div>
<div class="t r5" style="left:832px;top:405px;width:16px;height:15px"></div>
<div class="t r5" style="left:848px;top:405px;width:19px;height:15px"></div>
<div class="t g3" style="left:832px;top:420px;width:10px;height:13px"></div>
<div class="t r" style="left:842px;top:420px;width:14px;height:13px"></div>
<div class="t r" style="left:856px;top:420px;width:11px;height:13px"></div>
<div class="t r4" style="left:832px;top:433px;width:16px;height:20px"></div>
<div class="t g3" style="left:848px;top:433px;width:10px;height:10px"></div>
<div class="t r" style="left:858px;top:433px;width:9px;height:20px"></div>
<div class="h" style="left:712px;top:422px;width:77px;height:14px">... عرضه برق، گاز [+]</div>
<div class="t g T" style="left:712px;top:436px;width:33px;height:51px">…</div>
<div class="t r" style="left:712px;top:487px;width:33px;height:19px">دماوند</div>
<div class="t r5" style="left:745px;top:436px;width:23px;height:27px">م...</div>
<div class="t r" style="left:768px;top:436px;width:20px;height:27px"></div>
<div class="t r" style="left:745px;top:463px;width:23px;height:17px">ب...</div>
<div class="t r3" style="left:768px;top:463px;width:20px;height:17px"></div>
<div class="t g3" style="left:745px;top:480px;width:10px;height:26px"></div>
<div class="t r3" style="left:755px;top:480px;width:20px;height:26px"></div>
<div class="t r" style="left:775px;top:480px;width:13px;height:26px"></div>
<div class="h" style="left:790px;top:453px;width:77px;height:13px">ماشین آلات و د [+]...</div>
<div class="t r T" style="left:790px;top:466px;width:53px;height:40px">…<br>-6.3%</div>
<div class="t r" style="left:843px;top:466px;width:24px;height:14px"></div>
<div class="t r3" style="left:843px;top:480px;width:24px;height:15px"></div>
<div class="t r" style="left:843px;top:495px;width:24px;height:11px"></div>
<div class="h" style="left:868px;top:415px;width:35px;height:13px">مح... [+]</div>
<div class="t r3" style="left:868px;top:428px;width:18px;height:27px">ج...</div>
<div class="t g2" style="left:886px;top:428px;width:17px;height:27px"></div>
<div class="t r3" style="left:868px;top:455px;width:35px;height:11px"></div>
<div class="h" style="left:904px;top:415px;width:44px;height:13px">تولید ... [+]</div>
<div class="t r4" style="left:904px;top:428px;width:44px;height:14px"></div>
<div class="h" style="left:949px;top:415px;width:36px;height:13px">خد... [+]</div>
<div class="t r3" style="left:949px;top:428px;width:36px;height:14px"></div>
<div class="h" style="left:904px;top:443px;width:29px;height:14px">... [+]</div>
<div class="h" style="left:934px;top:443px;width:27px;height:14px">... [+]</div>
<div class="h" style="left:962px;top:443px;width:23px;height:14px">[+]...</div>
<div class="t r" style="left:904px;top:457px;width:29px;height:16px">حخزر</div>
<div class="t g3" style="left:934px;top:457px;width:27px;height:16px"></div>
<div class="t r" style="left:962px;top:457px;width:23px;height:16px"></div>
<div class="h" style="left:868px;top:469px;width:35px;height:14px">اس... [+]</div>
<div class="t g3" style="left:868px;top:483px;width:35px;height:23px">کماسه</div>
<div class="h" style="left:904px;top:476px;width:29px;height:12px">ا... [+]</div>
<div class="h" style="left:934px;top:476px;width:19px;height:12px">[+...</div>
<div class="h" style="left:955px;top:476px;width:17px;height:12px">...</div>
<div class="t g3" style="left:904px;top:488px;width:14px;height:18px"></div>
<div class="t r" style="left:918px;top:488px;width:15px;height:18px"></div>
<div class="t g2" style="left:934px;top:488px;width:20px;height:18px"></div>
<div class="t r4" style="left:954px;top:488px;width:8px;height:18px"></div>
<div class="t r3" style="left:962px;top:488px;width:13px;height:18px"></div>
<div class="t r" style="left:975px;top:488px;width:10px;height:18px"></div>
</body></html>
